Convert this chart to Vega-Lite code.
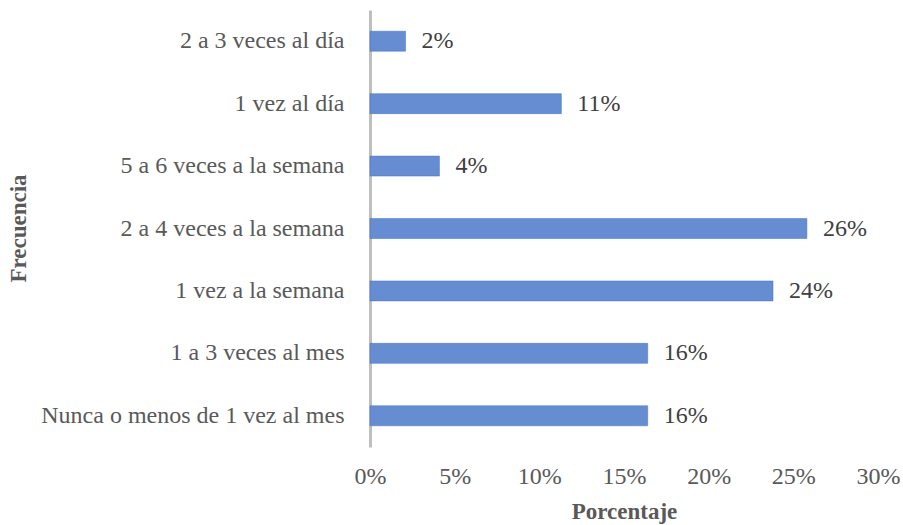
{
  "$schema": "https://vega.github.io/schema/vega-lite/v6.json",
  "width": 508,
  "height": 437,
  "autosize": {"type": "none"},
  "padding": {"left": 370, "top": 10, "right": 25, "bottom": 78},
  "background": "white",
  "data": {
    "values": [
      {"freq": "2 a 3 veces al día", "pct": 0.021},
      {"freq": "1 vez al día", "pct": 0.113},
      {"freq": "5 a 6 veces a la semana", "pct": 0.041},
      {"freq": "2 a 4 veces a la semana", "pct": 0.258},
      {"freq": "1 vez a la semana", "pct": 0.238},
      {"freq": "1 a 3 veces al mes", "pct": 0.164},
      {"freq": "Nunca o menos de 1 vez al mes", "pct": 0.164}
    ]
  },
  "encoding": {
    "y": {
      "field": "freq",
      "type": "nominal",
      "sort": null,
      "scale": {"paddingInner": 0.68, "paddingOuter": 0.34},
      "axis": {
        "title": "Frecuencia",
        "titleFont": "Liberation Serif",
        "titleFontSize": 23,
        "titleFontWeight": "bold",
        "titleColor": "#595959",
        "titleX": -352,
        "titleY": 218,
        "titleAngle": -90,
        "titleAlign": "center",
        "titleBaseline": "middle",
        "labelFont": "Liberation Serif",
        "labelFontSize": 24,
        "labelColor": "#595959",
        "labelPadding": 26,
        "labelLimit": 400,
        "ticks": false,
        "domainColor": "#BFBFBF",
        "domainWidth": 3,
        "grid": false
      }
    },
    "x": {
      "field": "pct",
      "type": "quantitative",
      "scale": {"domain": [0, 0.3]},
      "axis": {
        "title": "Porcentaje",
        "format": ".0%",
        "values": [0, 0.05, 0.1, 0.15, 0.2, 0.25, 0.3],
        "labelOverlap": false,
        "labelFlush": false,
        "titleFont": "Liberation Serif",
        "titleFontSize": 23,
        "titleFontWeight": "bold",
        "titleColor": "#595959",
        "titlePadding": 12,
        "labelFont": "Liberation Serif",
        "labelFontSize": 24,
        "labelColor": "#595959",
        "labelPadding": 17,
        "domain": false,
        "ticks": false,
        "grid": false
      }
    }
  },
  "layer": [
    {
      "mark": {"type": "bar", "color": "#668CD2", "stroke": "#4472C4", "strokeWidth": 0.5}
    },
    {
      "mark": {
        "type": "text",
        "align": "left",
        "baseline": "middle",
        "dx": 16,
        "font": "Liberation Serif",
        "fontSize": 24,
        "color": "#404040"
      },
      "encoding": {
        "text": {"field": "pct", "type": "quantitative", "format": ".0%"}
      }
    }
  ],
  "config": {"view": {"stroke": null}}
}
